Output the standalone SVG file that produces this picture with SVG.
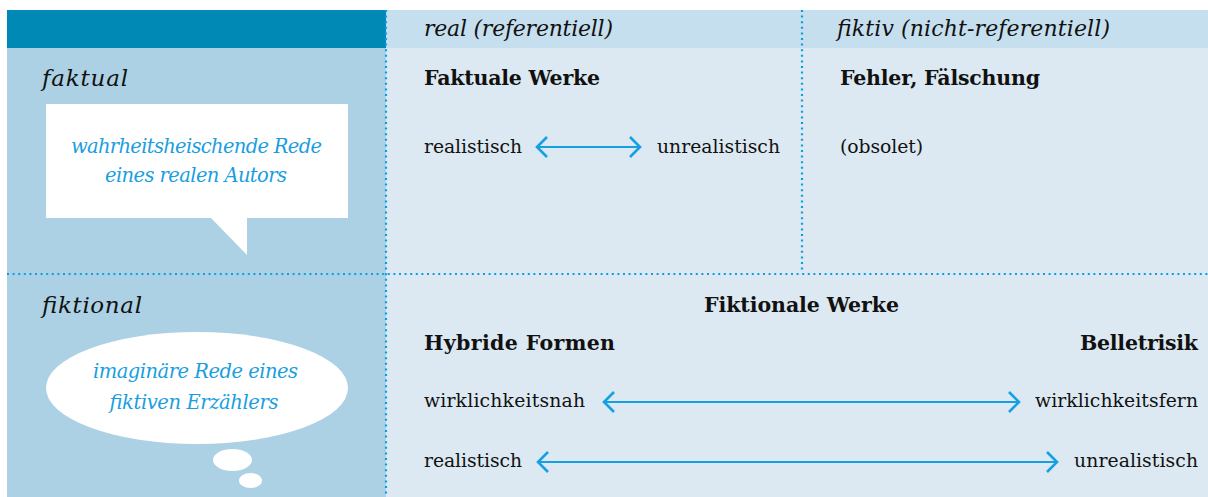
<svg xmlns="http://www.w3.org/2000/svg" width="1208" height="497" viewBox="0 0 1208 497">
<defs>
<style>
.txt{font-family:"DejaVu Serif","Liberation Serif",serif;font-size:18.8px;fill:#111}
.bold{font-family:"DejaVu Serif","Liberation Serif",serif;font-size:20.5px;font-weight:bold;fill:#111}
.it{font-family:"DejaVu Serif","Liberation Serif",serif;font-style:italic;font-size:23px;fill:#111}
.it2{font-family:"DejaVu Serif","Liberation Serif",serif;font-style:italic;font-size:22px;fill:#111}
.blue{font-family:"DejaVu Serif","Liberation Serif",serif;font-style:italic;font-size:19.5px;fill:#1a9ee0}
.dot{stroke:#0a9ee2;stroke-width:2.2;stroke-dasharray:2 3.6;fill:none}
.arr{stroke:#14a0e2;stroke-width:2.2;fill:none}
.head{stroke:#14a0e2;stroke-width:2.6;fill:none;stroke-linecap:butt}
</style>
</defs>
<g id="background">
<rect x="7" y="10" width="379" height="38" fill="#0089b5"/>
<rect x="7" y="48" width="379" height="449" fill="#acd1e4"/>
<rect x="386" y="10" width="822" height="38" fill="#c6dfee"/>
<rect x="386" y="48" width="822" height="449" fill="#dce9f2"/>
</g>
<g id="grid-lines">
<line class="dot" x1="386" y1="10" x2="386" y2="497"/>
<line class="dot" x1="802" y1="10" x2="802" y2="270"/>
<line class="dot" x1="7" y1="274" x2="1208" y2="274"/>
</g>
<g id="header-real"><text class="it2" x="424" y="36" textLength="189">real (referentiell)</text></g>
<g id="header-fiktiv"><text class="it2" x="837" y="36" textLength="273">fiktiv (nicht-referentiell)</text></g>
<g id="row-faktual">
<text class="it" x="42" y="86" textLength="86">faktual</text>
</g>
<g id="speech-bubble">
<path d="M46 104 H348 V218 H247 V255 L211 218 H46 Z" fill="#ffffff"/>
<text class="blue" x="71" y="153" textLength="251">wahrheitsheischende Rede</text>
<text class="blue" x="105" y="182" textLength="182">eines realen Autors</text>
</g>
<g id="cell-faktuale-werke">
<text class="bold" x="424" y="85" textLength="176">Faktuale Werke</text>
<text class="txt" x="424" y="153" textLength="98">realistisch</text>
<text class="txt" x="657" y="153" textLength="123">unrealistisch</text>
</g>
<g id="cell-fehler">
<text class="bold" x="840" y="85" textLength="200">Fehler, Fälschung</text>
<text class="txt" x="840" y="153" textLength="83">(obsolet)</text>
</g>
<g id="row-fiktional">
<text class="it" x="42" y="313" textLength="100">fiktional</text>
</g>
<g id="thought-bubble">
<ellipse cx="197" cy="388" rx="151" ry="56" fill="#ffffff"/>
<ellipse cx="232.5" cy="460" rx="19.5" ry="11" fill="#ffffff"/>
<ellipse cx="250.5" cy="480.5" rx="11.5" ry="7.5" fill="#ffffff"/>
<text class="blue" x="93" y="378" textLength="205">imaginäre Rede eines</text>
<text class="blue" x="109" y="409" textLength="169">fiktiven Erzählers</text>
</g>
<g id="cell-fiktionale-werke">
<text class="bold" x="704" y="312" textLength="195">Fiktionale Werke</text>
<text class="bold" x="424" y="350" textLength="191">Hybride Formen</text>
<text class="bold" x="1080" y="350" textLength="118">Belletrisik</text>
<text class="txt" x="424" y="407" textLength="161">wirklichkeitsnah</text>
<text class="txt" x="1035" y="407" textLength="163">wirklichkeitsfern</text>
<text class="txt" x="424" y="467" textLength="98">realistisch</text>
<text class="txt" x="1074" y="467" textLength="124">unrealistisch</text>
</g>
<g id="connectors">
<line class="arr" x1="537" y1="147" x2="640" y2="147"/>
<polyline class="head" points="547,137 537,147 547,157"/>
<polyline class="head" points="630,137 640,147 630,157"/>
<line class="arr" x1="604" y1="402" x2="1019" y2="402"/>
<polyline class="head" points="614,392 604,402 614,412"/>
<polyline class="head" points="1009,392 1019,402 1009,412"/>
<line class="arr" x1="538" y1="462" x2="1057" y2="462"/>
<polyline class="head" points="548,452 538,462 548,472"/>
<polyline class="head" points="1047,452 1057,462 1047,472"/>
</g>
</svg>
